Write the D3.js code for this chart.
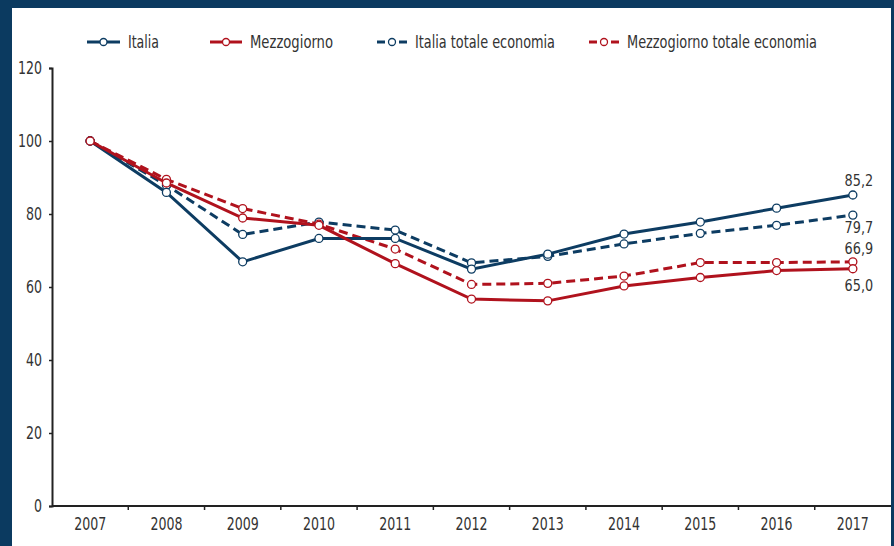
<!DOCTYPE html>
<html>
<head>
<meta charset="utf-8">
<script src="https://cdn.jsdelivr.net/npm/d3@7"></script>
<style>
  html, body { margin: 0; padding: 0; background: #0b3a60; }
  svg { display: block; }
  text { font-family: "DejaVu Sans Condensed", "Liberation Sans Narrow", sans-serif; fill: #333; }
</style>
</head>
<body>
<div id="chart"></div>
<script>
// years on the x axis
const years = ["2007", "2008", "2009", "2010", "2011", "2012", "2013", "2014", "2015", "2016", "2017"];
const yTicks = [0, 20, 40, 60, 80, 100, 120];

// index values, 2007 = 100
const italia = [100, 85.9, 66.9, 73.3, 73.3, 64.9, 69.0, 74.5, 77.8, 81.6, 85.2];
const mezzogiorno = [100, 88.5, 78.9, 76.9, 66.4, 56.7, 56.2, 60.3, 62.6, 64.5, 65.0];
const italiaTot = [100, 87.9, 74.4, 77.8, 75.6, 66.6, 68.4, 71.8, 74.7, 76.9, 79.7];
const mezzTot = [100, 89.5, 81.5, 77.2, 70.4, 60.7, 61.0, 63.0, 66.7, 66.7, 66.9];

const series = [
    { name: "Italia", values: italia, color: "#0d3c62", dash: null },
    { name: "Mezzogiorno", values: mezzogiorno, color: "#b0121d", dash: null },
    { name: "Italia totale economia", values: italiaTot, color: "#0d3c62", dash: "9,5" },
    { name: "Mezzogiorno totale economia", values: mezzTot, color: "#b0121d", dash: "9,5" }
];

const width = 894, height = 546;

// the original font is very condensed, so squeeze numbers to its width
function numWidth(s) {
    let w = 0;
    for (const c of String(s)) w += (c === "," ? 3.5 : 8);
    return w;
}

const svg = d3.select("#chart").append("svg")
    .attr("width", width)
    .attr("height", height);

// white panel inside the dark frame
svg.append("rect")
    .attr("x", 12).attr("y", 8)
    .attr("width", 879).attr("height", height - 8)
    .attr("fill", "#fff");

const x = d3.scaleBand().domain(years).range([52, 891]).padding(0);
const y = d3.scaleLinear().domain([0, 120]).range([506, 68]);

// y axis
const yAxis = svg.append("g")
    .attr("transform", "translate(52,0)")
    .call(d3.axisLeft(y).tickValues(yTicks).tickSize(3).tickPadding(7));
yAxis.select(".domain").attr("stroke", "#222").attr("stroke-width", 2);
yAxis.selectAll(".tick line").attr("stroke", "#222").attr("stroke-width", 1.5);
yAxis.selectAll("text")
    .style("font-size", "18px")
    .attr("fill", "#333")
    .attr("textLength", d => numWidth(d))
    .attr("lengthAdjust", "spacingAndGlyphs");

// x axis, ticks on category boundaries
const xAxis = svg.append("g")
    .attr("transform", "translate(0,506)");
xAxis.append("line")
    .attr("x1", 52).attr("x2", 891)
    .attr("stroke", "#222").attr("stroke-width", 2);
xAxis.selectAll(".xt")
    .data(years.slice(1))
    .enter().append("line")
    .attr("x1", d => x(d)).attr("x2", d => x(d))
    .attr("y1", 0).attr("y2", 4)
    .attr("stroke", "#222").attr("stroke-width", 1.5);
xAxis.selectAll(".xl")
    .data(years)
    .enter().append("text")
    .attr("x", d => x(d) + x.bandwidth() / 2)
    .attr("y", 24)
    .attr("text-anchor", "middle")
    .style("font-size", "18px")
    .attr("textLength", d => numWidth(d))
    .attr("lengthAdjust", "spacingAndGlyphs")
    .text(d => d);

const line = d3.line()
    .x((d, i) => x(years[i]) + x.bandwidth() / 2)
    .y(d => y(d));

// draw dashed series first, then solid
const order = [2, 3, 0, 1];
order.forEach(k => {
    const s = series[k];
    const g = svg.append("g");
    g.append("path")
        .datum(s.values)
        .attr("d", line)
        .attr("fill", "none")
        .attr("stroke", s.color)
        .attr("stroke-width", 3)
        .attr("stroke-dasharray", s.dash);
    g.selectAll("circle")
        .data(s.values)
        .enter().append("circle")
        .attr("cx", (d, i) => x(years[i]) + x.bandwidth() / 2)
        .attr("cy", d => y(d))
        .attr("r", 4)
        .attr("fill", "#fff")
        .attr("stroke", s.color)
        .attr("stroke-width", 1.3);
});

// end labels
const fmt = v => v.toFixed(1).replace(".", ",");
const lastX = x(years[10]) + x.bandwidth() / 2 + 6;
const endLabels = [
    { v: italia[10], dy: -9 },
    { v: italiaTot[10], dy: 18 },
    { v: mezzTot[10], dy: -7.5 },
    { v: mezzogiorno[10], dy: 22.5 }
];
svg.selectAll(".endlab")
    .data(endLabels)
    .enter().append("text")
    .attr("x", lastX)
    .attr("y", d => y(d.v) + d.dy)
    .attr("text-anchor", "middle")
    .style("font-size", "16px")
    .attr("textLength", d => numWidth(fmt(d.v)) + 1)
    .attr("lengthAdjust", "spacingAndGlyphs")
    .text(d => fmt(d.v));

// legend
const legendItems = [
    { s: series[0], x0: 87, x1: 120, tx: 128, tw: 31 },
    { s: series[1], x0: 210, x1: 242, tx: 250, tw: 83 },
    { s: series[2], x0: 377, x1: 407, tx: 415, tw: 140 },
    { s: series[3], x0: 589, x1: 619, tx: 627, tw: 190 }
];
const legend = svg.append("g");
legendItems.forEach(it => {
    const ly = 42;
    const cx = (it.x0 + it.x1) / 2;
    if (it.s.dash) {
        legend.append("line").attr("x1", it.x0).attr("x2", it.x0 + 8)
            .attr("y1", ly).attr("y2", ly).attr("stroke", it.s.color).attr("stroke-width", 3);
        legend.append("line").attr("x1", it.x1 - 8).attr("x2", it.x1)
            .attr("y1", ly).attr("y2", ly).attr("stroke", it.s.color).attr("stroke-width", 3);
    } else {
        legend.append("line").attr("x1", it.x0).attr("x2", it.x1)
            .attr("y1", ly).attr("y2", ly).attr("stroke", it.s.color).attr("stroke-width", 3);
    }
    legend.append("circle").attr("cx", cx).attr("cy", ly).attr("r", 3.5)
        .attr("fill", "#fff").attr("stroke", it.s.color).attr("stroke-width", 1.3);
    legend.append("text").attr("x", it.tx).attr("y", ly + 6)
        .style("font-size", "18px")
        .attr("textLength", it.tw)
        .attr("lengthAdjust", "spacingAndGlyphs")
        .text(it.s.name);
});
</script>
</body>
</html>
